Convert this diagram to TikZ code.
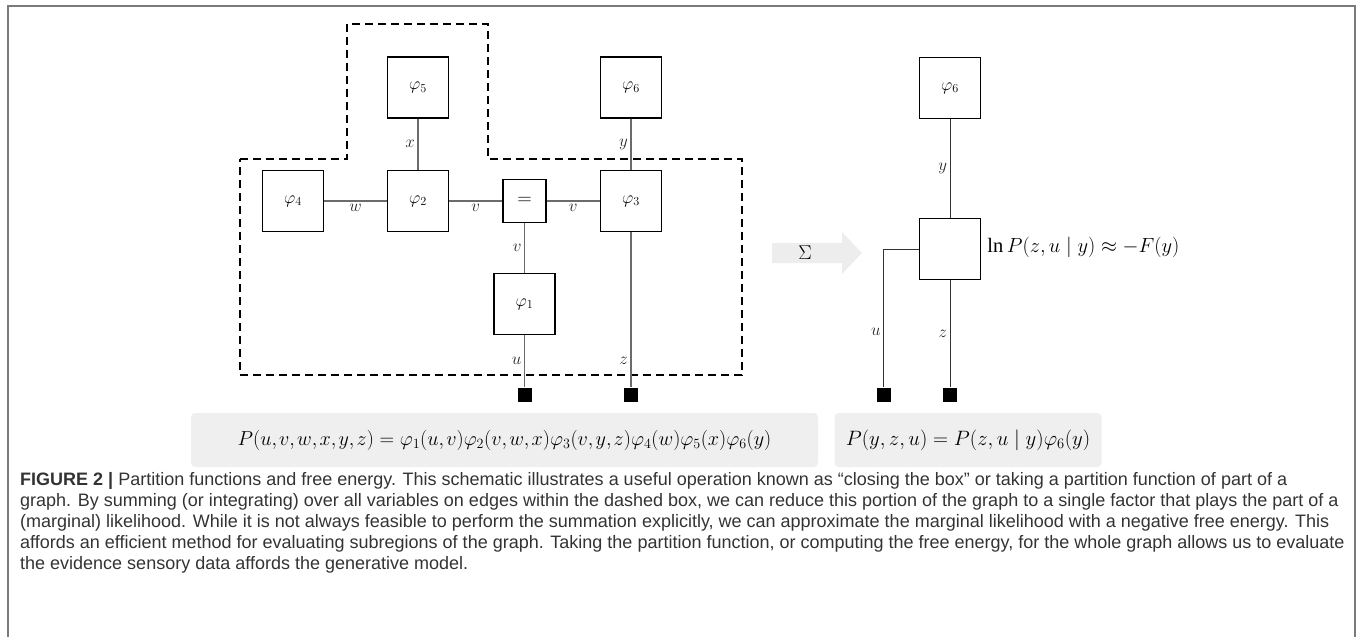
\RequirePackage{fix-cm}
\documentclass[tikz,border=0pt]{standalone}
\usepackage{fontspec}
\setmainfont{Liberation Serif}
\newfontfamily\capfont{Liberation Sans}
\usepackage{xcolor}
\usepackage{tikz}
\usetikzlibrary{positioning, arrows.meta, calc}
\definecolor{FIG_Frame}{HTML}{7A7A7A}
\definecolor{FIG_Edge}{HTML}{6B6B6B}
\definecolor{FIG_Panel}{HTML}{EFEFEF}
\definecolor{FIG_Arrow}{HTML}{EDEDED}
\definecolor{FIG_Text}{HTML}{333333}

\begin{document}
\begin{tikzpicture}[
  x=1pt, y=-1pt, every node/.style={font=\fontsize{13}{15}\selectfont},
  factor/.style={draw, line width=1.5pt, minimum width=61pt, minimum height=61pt,
    inner sep=0pt, font=\fontsize{17.5}{19}\selectfont},
  eqbox/.style={draw, line width=1.5pt, minimum width=43pt, minimum height=43pt,
    inner sep=0pt, font=\fontsize{20}{22}\selectfont},
  term/.style={fill=black, minimum size=14pt, inner sep=0pt},
  edge/.style={FIG_Edge, line width=1.1pt},
  redge/.style={black!80, line width=0.9pt},
  lbl/.style={inner sep=2.5pt, text=black!85, font=\fontsize{17}{18}\selectfont},
  closebox/.style={black, line width=1.6pt, dash pattern=on 8pt off 5pt},
  panel/.style={fill=FIG_Panel, rounded corners=4pt, inner sep=0pt,
    minimum height=54pt},
  capt/.style={font=\capfont\fontsize{18}{21}\selectfont, text=FIG_Text,
    align=left, inner sep=0pt}
]
  \useasboundingbox (0,0) rectangle (1360,637);

  % Frame
  \draw[FIG_Frame, line width=2pt] (7.5,637) -- (7.5,6) -- (1355,6) -- (1355,637);

  % Dashed box
  \draw[closebox] (240,159) -- (347,159) -- (347,24) -- (488,24) -- (488,159)
    -- (742,159) -- (742,375) -- (240,375) -- cycle;

  % Factors, full graph
  \node[factor] (phi5) at (418,87.5) {$\varphi_5$};
  \node[factor] (phi6) at (631,87.5) {$\varphi_6$};
  \node[factor] (phi4) at (293,201) {$\varphi_4$};
  \node[factor] (phi2) at (418,201) {$\varphi_2$};
  \node[eqbox] (eqn) at (524.5,201) {$=$};
  \node[factor] (phi3) at (631,201) {$\varphi_3$};
  \node[factor] (phi1) at (524.5,304) {$\varphi_1$};
  \node[term] (obsU) at (524.5,394.5) {};
  \node[term] (obsZ) at (631,394.5) {};

  % Edges, full graph
  \draw[edge] (phi5) -- node[lbl, left] {$x$} (phi2);
  \draw[edge] (phi6) -- node[lbl, left] {$y$} (phi3);
  \draw[edge] (phi4) -- node[lbl, below] {$w$} (phi2);
  \draw[edge] (phi2) -- node[lbl, below] {$v$} (eqn);
  \draw[edge] (eqn) -- node[lbl, below] {$v$} (phi3);
  \draw[edge] (eqn) -- node[lbl, left] {$v$} (phi1);
  \draw[edge] (phi1) -- node[lbl, left] {$u$} (obsU);
  \draw[edge] (phi3) -- node[lbl, left, pos=0.83] {$z$} (obsZ);

  % Summation arrow
  \fill[FIG_Arrow] (772,243) -- (842,243) -- (842,232) -- (862,253)
    -- (842,274) -- (842,263) -- (772,263) -- cycle;
  \node[font=\fontsize{20}{22}\selectfont] (sum) at (805,253) {$\Sigma$};

  % Reduced graph
  \node[factor] (rphi6) at (950,88) {$\varphi_6$};
  \node[factor] (part) at (950,249) {};
  \node[term] (robsU) at (883.5,394.5) {};
  \node[term] (robsZ) at (950,394.5) {};
  \node[anchor=west, inner sep=0pt, font=\fontsize{20.5}{22}\selectfont] (free)
    at ([xshift=6pt, yshift=2pt]part.east) {$\ln P(z,u\mid y)\approx -F(y)$};

  \draw[redge] (rphi6) -- node[lbl, left] {$y$} (part);
  \draw[redge] (part.west) -| node[lbl, left, pos=0.8] {$u$} (robsU);
  \draw[redge] (part) -- node[lbl, left] {$z$} (robsZ);

  % Joint densities
  \node[panel, minimum width=627pt, font=\fontsize{20.2}{22}\selectfont] (jointA) at (504.5,440)
    {$\thinmuskip=2mu P(u,v,w,x,y,z)=\varphi_1(u,v)\varphi_2(v,w,x)\varphi_3(v,y,z)\varphi_4(w)\varphi_5(x)\varphi_6(y)$};
  \node[panel, minimum width=267pt, font=\fontsize{20.8}{23}\selectfont] (jointB) at (968,440)
    {$P(y,z,u)=P(z,u\mid y)\varphi_6(y)$};

  % Caption
  \node[capt, anchor=north west] (caption) at (20,472) {%
    {\bfseries FIGURE 2 |} Partition functions and free energy. This schematic illustrates a useful operation known as “closing the box” or taking a partition function of part of a\\
    graph. By summing (or integrating) over all variables on edges within the dashed box, we can reduce this portion of the graph to a single factor that plays the part of a\\
    (marginal) likelihood. While it is not always feasible to perform the summation explicitly, we can approximate the marginal likelihood with a negative free energy. This\\
    affords an efficient method for evaluating subregions of the graph. Taking the partition function, or computing the free energy, for the whole graph allows us to evaluate\\
    the evidence sensory data affords the generative model.};
\end{tikzpicture}
\end{document}
